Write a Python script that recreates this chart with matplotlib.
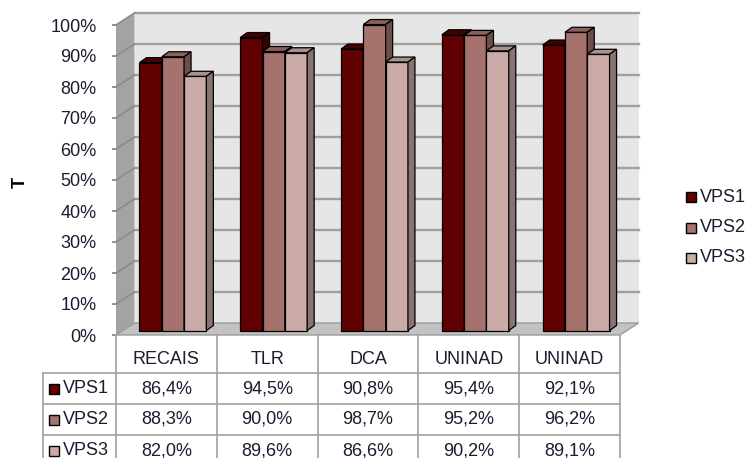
import numpy as np
import matplotlib.pyplot as plt
from matplotlib.patches import Polygon, Rectangle

categories = ['RECAIS', 'TLR', 'DCA', 'UNINAD', 'UNINAD']
series = ['VPS1', 'VPS2', 'VPS3']
vps1 = [86.4, 94.5, 90.8, 95.4, 92.1]
vps2 = [88.3, 90.0, 98.7, 95.2, 96.2]
vps3 = [82.0, 89.6, 86.6, 90.2, 89.1]
values = [vps1, vps2, vps3]
yticks = np.arange(0, 101, 10)

front = ['#600000', '#a5726d', '#cbaba8']
top = ['#450000', '#8a605b', '#a99190']
side = ['#380000', '#6f4d49', '#877371']
txt = '#1c1c30'
grid = '#a0a0a0'

plt.rcParams['font.family'] = ['Liberation Sans', 'DejaVu Sans']
fs = 13

W, H = 749, 458
fig = plt.figure(figsize=(W / 100, H / 100), dpi=100)

# front plane of the box (pixels)
x0, x1 = 116, 620
y0, y1 = 335, 25
ax = fig.add_axes([x0 / W, 1 - y0 / H, (x1 - x0) / W, (y0 - y1) / H])
ax.set_xlim(0, len(categories))
ax.set_ylim(0, 100)
ax.patch.set_visible(False)
for s in ax.spines.values():
    s.set_visible(False)

ux = len(categories) / (x1 - x0)
uy = 100 / (y0 - y1)
DX, DY = 18.5 * ux, 12 * uy          # depth of the box
n = len(categories)

# walls and floor
ax.add_patch(Rectangle((DX, DY), n, 100, fc='#e6e6e6', ec='none', zorder=0.2, clip_on=False))
ax.add_patch(Polygon([(0, 0), (DX, DY), (DX, 100 + DY), (0, 100)], fc='#a3a3a3', ec='none',
                     zorder=0.3, clip_on=False))
ax.add_patch(Polygon([(0, 0), (n, 0), (n + DX, DY), (DX, DY)], fc='#c2c2c2', ec='#9a9a9a',
                     lw=1, zorder=0.4, clip_on=False))
for v in yticks[1:]:
    ax.plot([DX, n + DX], [v + DY] * 2, color=grid, lw=1.7, zorder=0.25, clip_on=False)
    ax.plot([0, DX], [v, v + DY], color='#8a8a8a', lw=1.2, zorder=0.35, clip_on=False)

# 3D bars
bw = 22.3 * ux
bx, by = 6.5 * ux, 4.5 * uy
bdx, bdy = 7 * ux, 5 * uy
z = 1
for i in range(n):
    for j in range(len(series)):
        v = values[j][i]
        x = i + 0.5 + (j - 1.5) * bw + bx
        ax.bar(x, v, width=bw, bottom=by, align='edge', color=front[j], edgecolor='black',
               lw=0.9, zorder=z, clip_on=False)
        ax.add_patch(Polygon([(x, by + v), (x + bw, by + v), (x + bw + bdx, by + v + bdy),
                              (x + bdx, by + v + bdy)], fc=top[j], ec='black', lw=0.9,
                             zorder=z, clip_on=False))
        ax.add_patch(Polygon([(x + bw, by), (x + bw + bdx, by + bdy), (x + bw + bdx, by + v + bdy),
                              (x + bw, by + v)], fc=side[j], ec='black', lw=0.9,
                             zorder=z, clip_on=False))
        z += 1

ax.set_xticks([])
ax.set_yticks(yticks, [f'{v}%' for v in yticks])
ax.tick_params(axis='y', length=3, width=1.2, color='#808080', pad=11, labelsize=fs, labelcolor=txt)

fig.text(20 / W, 1 - 182 / H, 'T', rotation=90, fontweight='bold', fontsize=13,
         ha='center', va='center', color='black')

# data table and legend, laid out in pixels
ov = fig.add_axes([0, 0, 1, 1])
ov.set_xlim(0, W)
ov.set_ylim(H, 0)
ov.axis('off')
ov.patch.set_visible(False)

cols = [x0 + k * (x1 - x0) / n for k in range(n + 1)]
rows = [335, 373, 404, 435, 466]
kx = 43
for c in cols:
    ov.plot([c, c], [rows[0], rows[-1]], color=grid, lw=1.2)
ov.plot([kx, kx], [rows[1], rows[-1]], color=grid, lw=1.2)
for r in rows[1:-1]:
    ov.plot([kx, x1], [r, r], color=grid, lw=1.2)

for i, cat in enumerate(categories):
    cx = (cols[i] + cols[i + 1]) / 2
    ov.text(cx, 359, cat, ha='center', va='center', fontsize=fs, color=txt)
    for j in range(len(series)):
        cy = (rows[j + 1] + rows[j + 2]) / 2
        lab = f'{values[j][i]:.1f}%'.replace('.', ',')
        ov.text(cx, cy, lab, ha='center', va='center', fontsize=fs, color=txt)

def key(x, y, color, name):
    ov.add_patch(Rectangle((x, y - 5), 10, 10, fc=color, ec='black', lw=1))
    ov.text(x + 14, y, name, ha='left', va='center', fontsize=fs, color=txt)

for j, name in enumerate(series):
    key(49, (rows[j + 1] + rows[j + 2]) / 2, front[j], name)
    key(686, 197 + j * 30.5, front[j], name)

fig.savefig('out.png', dpi=100)
